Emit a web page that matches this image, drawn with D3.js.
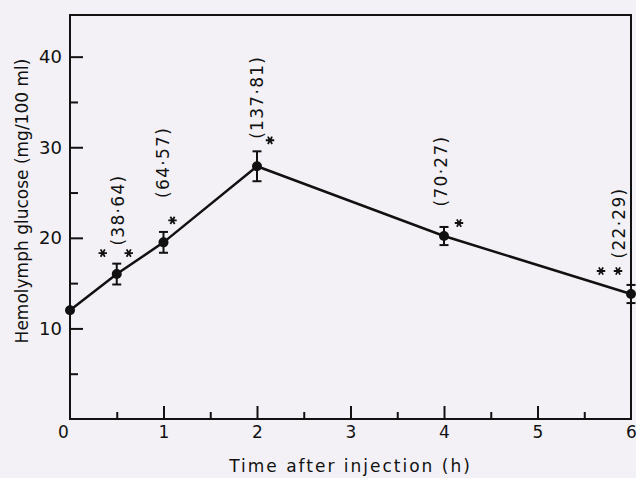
<!DOCTYPE html>
<html>
<head>
<meta charset="utf-8">
<script src="https://cdn.jsdelivr.net/npm/d3@7"></script>
<style>
  body { margin: 0; background: #f3f1f6; }
  svg { display: block; }
  text { font-family: "DejaVu Sans", sans-serif; fill: #111; }
</style>
</head>
<body>
<svg id="chart" width="636" height="478"></svg>
<script>
// hours after injection
var hours = [0, 0.5, 1, 2, 4, 6];
// mean hemolymph glucose, mg/100 ml
var glucose = [12.0, 16.0, 19.5, 27.9, 20.2, 13.8];
// error bar half-length (0 = none drawn)
var errors = [0, 1.15, 1.15, 1.65, 1.0, 1.0];
// bracketed figures printed above points, and number of asterisks
var notes = ['', '(38·64)', '(64·57)', '(137·81)', '(70·27)', '(22·29)'];
var stars = [0, 2, 1, 1, 1, 2];

var xTicks = [0, 1, 2, 3, 4, 5, 6];
var yTicks = [10, 20, 30, 40];

// layout offsets (px) for the notes, relative to each point
var noteOffsets = [null, [1, -64], [-1, -80], [0, -69], [-3, -65], [-12, -71]];
var starOffsets = [null, [[-14, -21], [12, -21]], [[9, -22]], [[13, -26]], [[15, -13]], [[-30, -23], [-13, -23]]];

var svg = d3.select('#chart');
var padL = 70, padR = 631, padT = 15, padB = 419;

var x = d3.scaleLinear().domain([0, 6]).range([padL, padR]);
var y = d3.scaleLinear().domain([0, 44.6]).range([padB, padT]);

// frame
svg.append('rect')
	.attr('x', padL).attr('y', padT)
	.attr('width', padR - padL).attr('height', padB - padT)
	.attr('fill', 'none').attr('stroke', '#111').attr('stroke-width', 2);

// x axis: ticks point up into the plot
var xAxis = svg.append('g')
	.attr('transform', 'translate(0,' + padB + ')')
	.call(d3.axisBottom(x).tickValues(xTicks).tickSizeInner(-13).tickSizeOuter(0).tickPadding(7).tickFormat(d3.format('d')));
xAxis.select('.domain').remove();
xAxis.selectAll('.tick line').attr('stroke', '#111').attr('stroke-width', 2)
	.attr('display', function(d) { return (d === 0 || d === 6) ? 'none' : null; });
xAxis.selectAll('.tick text').attr('font-size', 17).attr('fill', '#111')
	.attr('dx', function(d) { return d === 0 ? -7 : 0; });

var xMinor = svg.append('g')
	.attr('transform', 'translate(0,' + padB + ')')
	.call(d3.axisBottom(x).tickValues(d3.range(0.5, 6, 1)).tickSizeInner(-7).tickSizeOuter(0).tickFormat(''));
xMinor.select('.domain').remove();
xMinor.selectAll('.tick line').attr('stroke', '#111').attr('stroke-width', 2);

// y axis: ticks point right into the plot
var yAxis = svg.append('g')
	.attr('transform', 'translate(' + padL + ',0)')
	.call(d3.axisLeft(y).tickValues(yTicks).tickSizeInner(-13).tickSizeOuter(0).tickPadding(8));
yAxis.select('.domain').remove();
yAxis.selectAll('.tick line').attr('stroke', '#111').attr('stroke-width', 2);
yAxis.selectAll('.tick text').attr('font-size', 18).attr('fill', '#111');

var yMinor = svg.append('g')
	.attr('transform', 'translate(' + padL + ',0)')
	.call(d3.axisLeft(y).tickValues([5, 15, 25, 35]).tickSizeInner(-8).tickSizeOuter(0).tickFormat(''));
yMinor.select('.domain').remove();
yMinor.selectAll('.tick line').attr('stroke', '#111').attr('stroke-width', 2);

// axis titles
svg.append('text')
	.attr('x', (padL + padR) / 2).attr('y', 472)
	.attr('text-anchor', 'middle').attr('font-size', 17)
	.attr('letter-spacing', 2)
	.text('Time after injection (h)');

svg.append('text')
	.attr('transform', 'translate(28,201) rotate(-90)')
	.attr('text-anchor', 'middle').attr('font-size', 17)
	.text('Hemolymph glucose (mg/100 ml)');

var pts = hours.map(function(h, i) {
	return { h: h, v: glucose[i], e: errors[i], note: notes[i], stars: stars[i], i: i };
});

// line
svg.append('path')
	.datum(pts)
	.attr('fill', 'none').attr('stroke', '#111').attr('stroke-width', 2.5)
	.attr('d', d3.line().x(function(d) { return x(d.h); }).y(function(d) { return y(d.v); }));

// error bars
var eb = svg.append('g').selectAll('g')
	.data(pts.filter(function(d) { return d.e > 0; }))
	.enter().append('g')
	.attr('stroke', '#111').attr('stroke-width', 2);
eb.append('line')
	.attr('x1', function(d) { return x(d.h); }).attr('x2', function(d) { return x(d.h); })
	.attr('y1', function(d) { return y(d.v - d.e); }).attr('y2', function(d) { return y(d.v + d.e); });
eb.append('line')
	.attr('x1', function(d) { return x(d.h) - 4.5; }).attr('x2', function(d) { return x(d.h) + 4.5; })
	.attr('y1', function(d) { return y(d.v + d.e); }).attr('y2', function(d) { return y(d.v + d.e); });
eb.append('line')
	.attr('x1', function(d) { return x(d.h) - 4.5; }).attr('x2', function(d) { return x(d.h) + 4.5; })
	.attr('y1', function(d) { return y(d.v - d.e); }).attr('y2', function(d) { return y(d.v - d.e); });

// points
svg.append('g').selectAll('circle')
	.data(pts)
	.enter().append('circle')
	.attr('cx', function(d) { return x(d.h); })
	.attr('cy', function(d) { return y(d.v); })
	.attr('r', 5)
	.attr('fill', '#111');

// bracketed notes, rotated
svg.append('g').selectAll('text')
	.data(pts.filter(function(d) { return d.note; }))
	.enter().append('text')
	.attr('transform', function(d) {
		var o = noteOffsets[d.i];
		return 'translate(' + (x(d.h) + o[0] + 6) + ',' + (y(d.v) + o[1]) + ') rotate(-90)';
	})
	.attr('text-anchor', 'middle')
	.attr('font-size', 17)
	.attr('letter-spacing', 1.3)
	.text(function(d) { return d.note; });

// asterisks
var starData = [];
pts.forEach(function(d) {
	for (var k = 0; k < d.stars; k++) {
		starData.push({ cx: x(d.h) + starOffsets[d.i][k][0], cy: y(d.v) + starOffsets[d.i][k][1] });
	}
});
svg.append('g').selectAll('path')
	.data(starData)
	.enter().append('path')
	.attr('transform', function(d) { return 'translate(' + d.cx + ',' + d.cy + ') rotate(90)'; })
	.attr('d', d3.symbol().type(d3.symbolAsterisk).size(50))
	.attr('fill', 'none').attr('stroke', '#111').attr('stroke-width', 1.8);
</script>
</body>
</html>
